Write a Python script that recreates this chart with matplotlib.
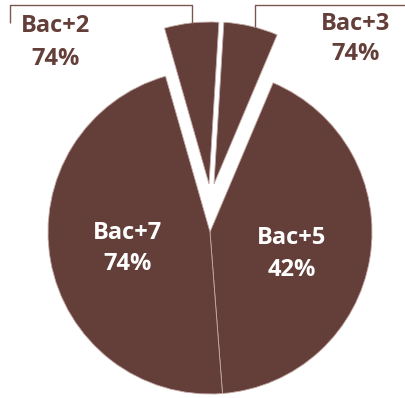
import matplotlib.pyplot as plt

# slices clockwise from the top
levels = ["Bac+3", "Bac+5", "Bac+7", "Bac+2"]
share = [5.4, 42.4, 46.8, 5.4]
rate = [74, 42, 74, 74]
# small slices are pulled up out of the pie (px)
lift = [(4, 48), (0, 0), (0, 0), (-1, 48)]

brown = "#643f3a"
W, H = 406, 398
cx, cy, R = 210, H - 232, 162

fig = plt.figure(figsize=(W / 100, H / 100), dpi=100)
ax = fig.add_axes([0, 0, 1, 1])

wedges, _ = ax.pie(share, startangle=86.5, counterclock=False,
                   colors=[brown] * len(share), radius=R, center=(cx, cy),
                   wedgeprops=dict(edgecolor="#c4aaa6", linewidth=0.6))
for w, (dx, dy) in zip(wedges, lift):
    w.set_center((cx + dx, cy + dy))

font = dict(family=["Open Sans", "DejaVu Sans"], weight="bold",
            fontsize=17, ha="center", va="center")

# (x, name row y, value row y) in px from the top
inner = {"Bac+7": (128, 233, 264), "Bac+5": (292, 238, 270)}
outer = {"Bac+2": (56, 26, 59), "Bac+3": (356, 24, 54)}

for name, val in zip(levels, rate):
    if name in inner:
        x, y1, y2 = inner[name]
        color = "white"
    else:
        x, y1, y2 = outer[name]
        color = brown
    ax.text(x, H - y1, name, color=color, **font)
    ax.text(x, H - y2, f"{val}%", color=color, **font)

line = dict(color="#7b5752", lw=1.0, solid_capstyle="butt")
ax.plot([10, 10, 192, 192], [H - 23, H - 5, H - 5, H - 24], **line)
ax.plot([255, 255, 406], [H - 27, H - 4.5, H - 4.5], **line)

ax.set_xlim(0, W)
ax.set_ylim(0, H)
ax.set_aspect("equal")
ax.axis("off")

fig.savefig("out.png", dpi=100)
